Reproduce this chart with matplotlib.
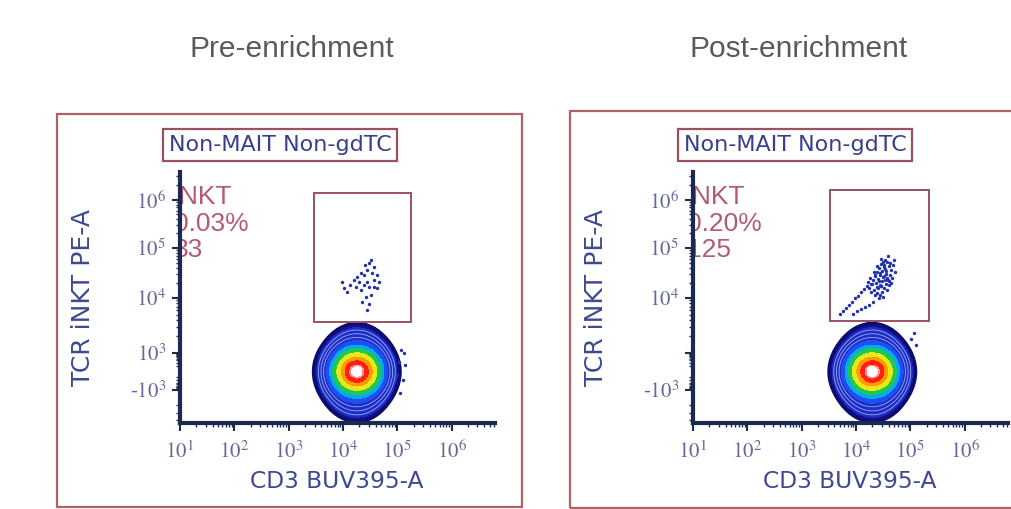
import numpy as np
import matplotlib
matplotlib.use('Agg')
import matplotlib.pyplot as plt
from matplotlib.patches import Rectangle
from matplotlib.ticker import FixedLocator, FixedFormatter, NullFormatter

plt.rcParams['mathtext.fontset'] = 'stix'

# ---------------- data ----------------
panel_titles = ['Pre-enrichment', 'Post-enrichment']
parent_gate = 'Non-MAIT Non-gdTC'
gate_name = 'iNKT'
gate_percent = ['0.03%', '0.20%']
gate_count = ['33', '125']
x_label = 'CD3 BUV395-A'
y_label = 'TCR iNKT PE-A'

x_tick_values = [1e1, 1e2, 1e3, 1e4, 1e5, 1e6]
x_tick_labels = [r'$10^{1}$', r'$10^{2}$', r'$10^{3}$', r'$10^{4}$', r'$10^{5}$', r'$10^{6}$']
y_tick_values = [[-1e3, 1e3, 1e4, 1e5, 1e6], [-1e3, 1e3, 1e4, 1e5, 1e6]]
y_tick_labels = [[r'-$10^{3}$', r'$10^{3}$', r'$10^{4}$', r'$10^{5}$', r'$10^{6}$'],
                 [r'-$10^{3}$', '', r'$10^{4}$', r'$10^{5}$', r'$10^{6}$']]
x_limits = (1e1, 10 ** 6.8)
y_limits = (-4700, 3.7e6)

# iNKT gate rectangles (CD3 min, CD3 max, TCR min, TCR max)
gate_cd3 = [(2970, 1.77e5), (3330, 2.24e5)]
gate_tcr = [(3640, 1.39e6), (3800, 1.60e6)]

# main population (bulk T cells)
blob_cd3_center = [1.8e4, 2.0e4]
blob_tcr_center = [0.0, 0.0]

# events inside the iNKT gate (log10 values)
pre_gate_log_cd3 = [4.02, 4.08, 4.13, 4.21, 4.26, 4.33, 4.39, 4.44, 4.48, 4.52, 4.57, 4.54, 4.44, 4.39, 4.48,
                    4.57, 4.63, 4.66, 4.43, 4.52, 4.35, 4.44, 4.57, 4.30, 4.24, 3.99, 4.48, 4.33, 4.63, 4.41]
pre_gate_log_tcr = [4.20, 4.12, 4.26, 4.36, 4.42, 4.50, 4.46, 4.56, 4.70, 4.76, 4.62, 4.50, 4.32, 4.26, 4.22,
                    4.22, 4.20, 4.32, 4.02, 4.06, 3.93, 3.78, 4.36, 4.32, 4.22, 4.32, 3.89, 4.16, 4.46, 4.66]
post_gate_log_cd3 = [3.70, 3.76, 3.81, 3.87, 3.93, 3.98, 4.04, 4.09, 4.15, 4.20,
                     3.94, 4.02, 4.09, 4.17, 4.24, 4.31,
                     4.24, 4.28, 4.31, 4.35, 4.39, 4.43, 4.46, 4.50, 4.54, 4.57, 4.61, 4.65, 4.63, 4.59,
                     4.56, 4.52, 4.48, 4.44, 4.39, 4.33, 4.30, 4.37, 4.41, 4.44, 4.48, 4.52, 4.56, 4.52,
                     4.48, 4.44, 4.41, 4.35, 4.43, 4.50, 4.57, 4.61, 4.67, 4.69, 4.70, 4.59, 4.46, 4.39,
                     4.33, 4.26, 4.22, 4.54, 4.46, 4.65, 4.72, 4.28,
                     4.45, 4.49, 4.53, 4.58, 4.42, 4.47, 4.51, 4.55, 4.60, 4.38, 4.62, 4.36]
post_gate_log_tcr = [3.71, 3.76, 3.82, 3.87, 3.93, 4.00, 4.04, 4.12, 4.18, 4.24,
                     3.71, 3.76, 3.80, 3.84, 3.87, 3.93,
                     4.20, 4.28, 4.36, 4.44, 4.52, 4.60, 4.68, 4.72, 4.76, 4.72, 4.64, 4.56, 4.46, 4.36,
                     4.28, 4.20, 4.12, 4.06, 4.10, 4.16, 4.28, 4.30, 4.38, 4.46, 4.54, 4.62, 4.54, 4.44,
                     4.34, 4.26, 4.20, 4.06, 4.00, 4.02, 4.16, 4.26, 4.40, 4.66, 4.76, 4.84, 4.78, 4.64,
                     4.52, 4.40, 4.32, 4.36, 4.24, 4.30, 4.52, 4.12,
                     4.50, 4.42, 4.58, 4.40, 4.34, 4.24, 4.66, 4.48, 4.34, 4.22, 4.70, 4.46]

# outliers to the right of the main population
pre_out_cd3 = [1.17e5, 1.35e5, 1.07e5, 1.38e5, 9.8e4, 1.26e5, 1.12e5]
pre_out_tcr = [1130, 1020, 223, 126, -60, -186, -1150]
post_out_cd3 = [1.17e5, 1.25e5, 1.05e5]
post_out_tcr = [2300, 1400, 1800]

# ---------------- style / layout ----------------
W, H = 1011, 509
fig = plt.figure(figsize=(W / 100, H / 100), dpi=100)

def fx(px):
    return px / W

def fy(py):
    return 1 - py / H

NAVY = '#1b2a4e'
TICKC = '#636898'
LABELC = '#3e4a90'
GATEC = '#9a5262'
FRAMEC = '#aa6464'
TEXTC = '#b35a78'

# biexponential-like display transform
T_anchor = np.arcsinh(np.array([-1e6, -1e3, 1e3, 1e4, 1e5, 1e6, 1e7]) / 100) / np.log(10)
U_anchor = np.array([-114, 33, 70, 125, 175, 223, 272], float)

def fwd(y):
    return np.interp(np.arcsinh(np.asarray(y, float) / 100) / np.log(10), T_anchor, U_anchor)

def inv(u):
    return 100 * np.sinh(np.interp(np.asarray(u, float), U_anchor, T_anchor) * np.log(10))

ax_left_px = [180, 693]
frames = [(57, 114, 522, 507), (570, 111, 1030, 508)]
header_x = [280, 795]
title_x = [292, 799]

levels = [0.0015, 0.005, 0.05, 0.10, 0.17, 0.30, 0.50, 0.70, 0.92, 0.99, 10]
fill_colors = ['#121288', '#1e2ec4', '#1c50f0', '#08a8f0', '#20c850', '#e8e818', '#ff9a00',
               '#ff2010', '#ff9090', '#ffffff']
zebra = [0.008, 0.016, 0.03]

gate_x_data = [(pre_gate_log_cd3, pre_gate_log_tcr), (post_gate_log_cd3, post_gate_log_tcr)]
out_data = [(pre_out_cd3, pre_out_tcr), (post_out_cd3, post_out_tcr)]

for i in range(2):
    # panel frame
    x0, y0, x1, y1 = frames[i]
    fig.add_artist(Rectangle((fx(x0), fy(y1)), (x1 - x0) / W, (y1 - y0) / H,
                             transform=fig.transFigure, fill=False, ec=FRAMEC, lw=1.6))
    fig.text(fx(title_x[i]), fy(49), panel_titles[i], ha='center', va='center',
             fontsize=21.5, color='#5a5a5a', family='Liberation Sans')
    fig.text(fx(header_x[i]), fy(145), parent_gate, ha='center', va='center',
             fontsize=16, color='#3a3f8a', family='DejaVu Sans',
             bbox=dict(boxstyle='square,pad=0.26', fc='white', ec=GATEC, lw=1.6))

    ax = fig.add_axes([fx(ax_left_px[i]), fy(423), 315 / W, 251 / H])
    ax.set_xscale('log')
    ax.set_yscale('function', functions=(fwd, inv))
    ax.set_xlim(*x_limits)
    ax.set_ylim(*y_limits)

    # density of main population
    xs = np.logspace(1, 6.8, 600)
    us = np.linspace(fwd(y_limits[0]), fwd(y_limits[1]), 600)
    ys = inv(us)
    LX, U = np.meshgrid(np.log10(xs), us)
    cx = np.log10(blob_cd3_center[i])
    cu = fwd(blob_tcr_center[i])
    core = np.exp(-0.5 * (((LX - cx) / 0.22) ** 2 + ((U - cu) / 11.0) ** 2))
    rr = ((LX - cx) / 0.385) ** 2 + ((U - cu + 1) / 26.0) ** 2
    halo = 0.08 * np.exp(-0.5 * rr ** 1.6)
    Z = core + halo
    ax.contourf(xs, ys, Z, levels=levels, colors=fill_colors, zorder=2)
    ax.contour(xs, ys, Z, levels=zebra, colors='#9aa8ff', linewidths=0.6, zorder=3)
    ax.contour(xs, ys, Z, levels=[0.0018], colors='#0c0c70', linewidths=2.2, zorder=3)

    # gate events
    lcd3, ltcr = gate_x_data[i]
    ax.scatter(10 ** np.array(lcd3), 10 ** np.array(ltcr), s=6, color='#2233aa', lw=0, zorder=4)
    oc, ot = out_data[i]
    ax.scatter(oc, ot, s=6, color='#2233aa', lw=0, zorder=4)

    # gate rectangle
    gx0, gx1 = gate_cd3[i]
    gy0, gy1 = gate_tcr[i]
    ax.add_patch(Rectangle((gx0, gy0), gx1 - gx0, gy1 - gy0, fill=False, ec=GATEC, lw=1.4, zorder=5))

    # gate annotation (clipped by the axis)
    ax.text(-0.02, 0.947, gate_name + '\n' + gate_percent[i] + '\n' + gate_count[i],
            transform=ax.transAxes, ha='left', va='top', fontsize=19, color=TEXTC,
            family='Liberation Sans', linespacing=1.13, clip_on=True, zorder=1)

    # axes styling
    for s in ['top', 'right']:
        ax.spines[s].set_visible(False)
    for s in ['left', 'bottom']:
        ax.spines[s].set_linewidth(3)
        ax.spines[s].set_color(NAVY)
        ax.spines[s].set_zorder(6)
    ax.xaxis.set_major_locator(FixedLocator(x_tick_values))
    ax.xaxis.set_major_formatter(FixedFormatter(x_tick_labels))
    xminor = [m * 10 ** k for k in range(1, 7) for m in range(2, 10)]
    ax.xaxis.set_minor_locator(FixedLocator(xminor))
    ax.xaxis.set_minor_formatter(NullFormatter())
    ax.yaxis.set_major_locator(FixedLocator(y_tick_values[i]))
    ax.yaxis.set_major_formatter(FixedFormatter(y_tick_labels[i]))
    yminor = ([m * 10 ** k for k in range(3, 7) for m in range(2, 10)] +
              [v for v in range(-900, 1000, 100) if v != 0] + [-2000, -3000, -4000])
    ax.yaxis.set_minor_locator(FixedLocator(yminor))
    ax.yaxis.set_minor_formatter(NullFormatter())
    ax.tick_params(which='major', direction='out', length=6, width=1.5, color=NAVY,
                   labelcolor=TICKC, labelsize=15)
    ax.tick_params(which='minor', direction='out', length=3, width=1.0, color=NAVY)
    ax.tick_params(axis='x', which='major', pad=7)
    ax.tick_params(axis='y', which='major', pad=4)
    for lab in ax.get_xticklabels() + ax.get_yticklabels():
        lab.set_family('STIXGeneral')
    ax.patch.set_alpha(0)

    # axis titles
    fig.text(fx(ax_left_px[i] - 97), fy(298), y_label, rotation=90, ha='center', va='center',
             fontsize=18, color=LABELC, family='DejaVu Sans')
    fig.text(fx(ax_left_px[i] + 157), fy(482), x_label, ha='center', va='center',
             fontsize=16.8, color=LABELC, family='DejaVu Sans')

fig.savefig('out.png', dpi=100)
